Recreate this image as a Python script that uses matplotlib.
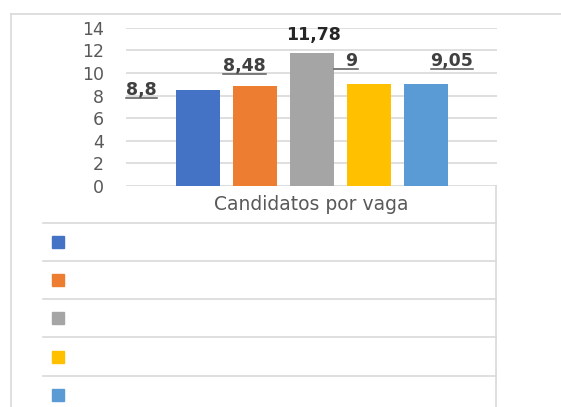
import matplotlib.pyplot as plt
from matplotlib.lines import Line2D

# --- data ---
category = "Candidatos por vaga"
values = [8.48, 8.8, 11.78, 9, 9.05]
labels = ["8,8", "8,48", "11,78", "  9", "9,05"]
underlined = [True, True, False, True, True]
colors = ["#4472C4", "#ED7D31", "#A5A5A5", "#FFC000", "#5B9BD5"]
yticks = [0, 2, 4, 6, 8, 10, 12, 14]

# label offsets from bar top centre, in pixels (x right, y up)
label_dx = [-56, -10, 1.5, -22.5, 26.5]
label_dy = [-5, 15.3, 12.7, 18, 17.5]

W, H = 561, 407
fig = plt.figure(figsize=(W / 100, H / 100), dpi=100)
grid_c = "#d9d9d9"
text_c = "#595959"

# background layer in pixel units for the frame and the data table
bg = fig.add_axes([0, 0, 1, 1], zorder=0)
bg.set_xlim(0, W)
bg.set_ylim(H, 0)
bg.axis("off")

# chart frame (top and left edges visible)
bg.plot([11, W + 5], [14, 14], color=grid_c, lw=1.2)
bg.plot([11, 11], [14, H + 5], color=grid_c, lw=1.2)

# main plot area
x0, x1 = 126, 497
y_top, y_zero = 27.7, 186
ax = fig.add_axes([x0 / W, 1 - y_zero / H, (x1 - x0) / W, (y_zero - y_top) / H], zorder=2)
ax.patch.set_alpha(0)

pos = list(range(len(values)))
step = 57
ax.bar(pos, values, width=44 / step, color=colors, zorder=3)
ax.set_xlim(2 - (311.5 - x0) / step, 2 + (x1 - 311.5) / step)
ax.set_ylim(0, 14)
ax.set_yticks(yticks)
ax.set_yticklabels([str(t) for t in yticks], fontsize=12.5, color=text_c)
ax.tick_params(axis="y", length=0, pad=16)
ax.set_xticks([])
ax.yaxis.grid(True, color=grid_c, lw=1.2, zorder=0)
for s in ax.spines.values():
    s.set_visible(False)

# data labels
texts = []
for i, (v, lab) in enumerate(zip(values, labels)):
    t = ax.annotate(lab, (pos[i], v), xytext=(label_dx[i] * 0.72, label_dy[i] * 0.72),
                    textcoords="offset points", ha="center", va="baseline",
                    fontsize=12.5, fontweight="bold",
                    color="#262626" if not underlined[i] else "#404040", zorder=5)
    texts.append(t)

# data table below the plot
bg.text((x0 + x1) / 2, 204, category, ha="center", va="center", fontsize=13.5, color=text_c)
bg.plot([496, 496], [y_zero, H + 5], color=grid_c, lw=1.2)
row_h = 38.3
first_line = 222.5
for i, c in enumerate(colors):
    yl = first_line + i * row_h
    bg.plot([43, 496], [yl, yl], color=grid_c, lw=1.2)
    bg.plot([58.5], [yl + row_h / 2], marker="s", ms=9.2, color=c, mec=c)

# underlines under the data labels
fig.canvas.draw()
inv = fig.transFigure.inverted()
for i, t in enumerate(texts):
    if not underlined[i]:
        continue
    bb = t.get_window_extent()
    bx, by = ax.transData.transform((pos[i], values[i]))
    base = by + label_dy[i] - 2.5
    p0 = inv.transform((bb.x0, base))
    p1 = inv.transform((bb.x1, base))
    fig.add_artist(Line2D([p0[0], p1[0]], [p0[1], p1[1]], color="#595959", lw=1.1, zorder=6))

fig.savefig("out.png", dpi=100)
